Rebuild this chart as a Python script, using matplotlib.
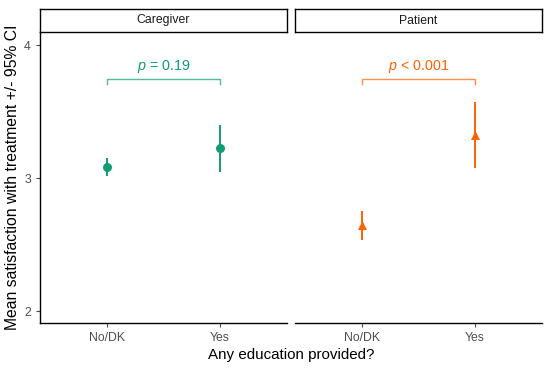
import matplotlib
matplotlib.use("Agg")
import matplotlib.pyplot as plt

plt.rcParams['font.family'] = ['Liberation Sans', 'DejaVu Sans']
plt.rcParams['mathtext.fontset'] = 'custom'
plt.rcParams['mathtext.it'] = 'Liberation Sans:italic'
plt.rcParams['mathtext.rm'] = 'Liberation Sans'

# データ
panels = ["Caregiver", "Patient"]
groups = ["No/DK", "Yes"]
means = {"Caregiver": [3.085, 3.225], "Patient": [2.645, 3.325]}
ci_low = {"Caregiver": [3.02, 3.05], "Patient": [2.535, 3.075]}
ci_high = {"Caregiver": [3.15, 3.40], "Patient": [2.75, 3.57]}
p_labels = {"Caregiver": "$p$ = 0.19", "Patient": "$p$ < 0.001"}
bracket_y = 3.745
colors = {"Caregiver": "#0E9E72", "Patient": "#FF6000"}
markers = {"Caregiver": "o", "Patient": "^"}

fig = plt.figure(figsize=(5.5, 3.68), dpi=100)
W, H = 550, 368
lefts = [40, 295]
pw = 247
top, bottom = 32, 323
strip_top = 9

for i, name in enumerate(panels):
    x0 = lefts[i]
    ax = fig.add_axes([x0 / W, 1 - bottom / H, pw / W, (bottom - top) / H])
    c = colors[name]
    xs = [1, 2]
    ax.vlines(xs, ci_low[name], ci_high[name], color=c, linewidth=1.4)
    ax.scatter(xs, means[name], color=c, marker=markers[name], s=42, zorder=3, linewidths=0)
    # 括弧とp値
    ax.plot([1, 1, 2, 2], [bracket_y - 0.035, bracket_y, bracket_y, bracket_y - 0.035],
            color=c, alpha=0.7, linewidth=1.0)
    ax.text(1.5, bracket_y + 0.03, p_labels[name], color=c, ha='center', va='bottom', fontsize=10.3)

    ax.set_xlim(0.4, 2.6)
    ax.set_ylim(1.91, 4.1)
    ax.set_xticks(xs)
    ax.set_xticklabels(groups)
    ax.tick_params(axis='both', colors='#4D4D4D', labelsize=8.8, length=3, width=0.8)
    for s in ['top', 'right']:
        ax.spines[s].set_visible(False)
    ax.spines['bottom'].set_linewidth(1.0)
    ax.spines['left'].set_linewidth(1.0)
    if i == 0:
        ax.set_yticks([2, 3, 4])
        ax.set_ylabel("Mean satisfaction with treatment +/- 95% CI", fontsize=11.3, labelpad=3)
    else:
        ax.spines['left'].set_visible(False)
        ax.set_yticks([])

    # ストリップ
    sax = fig.add_axes([x0 / W, 1 - top / H, pw / W, (top - strip_top) / H])
    sax.set_xticks([])
    sax.set_yticks([])
    for s in sax.spines.values():
        s.set_linewidth(1.0)
    sax.text(0.5, 0.5, name, ha='center', va='center', fontsize=8.8, color='#1A1A1A',
             transform=sax.transAxes)

fig.text((40 + 542) / 2 / W, 1 - 355 / H, "Any education provided?", ha='center', va='center',
         fontsize=10.9)

plt.savefig("out.png", dpi=100)
